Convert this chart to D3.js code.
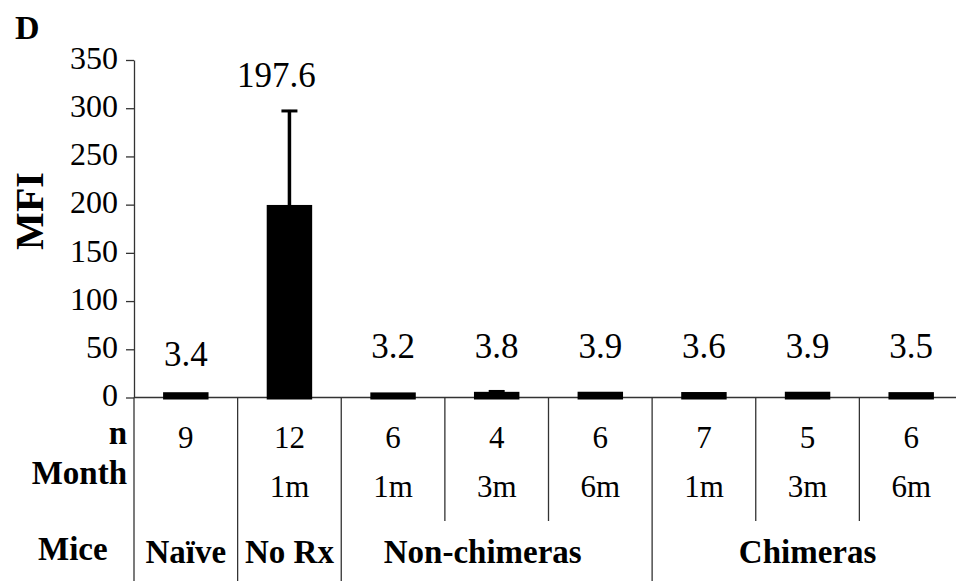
<!DOCTYPE html>
<html>
<head>
<meta charset="utf-8">
<script src="https://cdn.jsdelivr.net/npm/d3@7/dist/d3.min.js"></script>
<style>
  html, body { margin: 0; padding: 0; background: #fff; }
  svg { display: block; font-family: "Liberation Serif", "Times New Roman", serif; }
</style>
</head>
<body>
<svg id="chart" width="956" height="585"></svg>
<script>
// MFI by treatment group
const categories = ["naive", "norx", "nc1", "nc3", "nc6", "c1", "c3", "c6"];
const mfiMean    = [3.4, 197.6, 3.2, 3.8, 3.9, 3.6, 3.9, 3.5];
const mfiError   = [0, 100.6, 0, 3.5, 0, 0, 0, 0];
const nMice      = ["9", "12", "6", "4", "6", "7", "5", "6"];
const monthLabel = ["", "1m", "1m", "3m", "6m", "1m", "3m", "6m"];
const yTicks     = [0, 50, 100, 150, 200, 250, 300, 350];
// mouse groups: label and index range of categories they span
const groupNames = ["Naïve", "No Rx", "Non-chimeras", "Chimeras"];
const groupStart = [0, 1, 2, 5];
const groupEnd   = [0, 1, 4, 7];

const svg = d3.select("#chart");
const W = 956;
const axisX = 134, plotRight = 963;
const yTop = 60, yBase = 397.5;
const tableBottom = 581, subBottom = 521;

const x = d3.scaleBand().domain(categories).range([axisX, plotRight]);
const y = d3.scaleLinear().domain([0, 350]).range([yBase, yTop]);
const bw = x.bandwidth();
const barW = bw * 0.40;
const lineCol = "#333";

// panel letter
svg.append("text").attr("x", 15).attr("y", 39)
  .attr("font-size", 34).attr("font-weight", "bold").text("D");

// y axis title
svg.append("text")
  .attr("transform", "translate(43,211) rotate(-90)")
  .attr("text-anchor", "middle")
  .attr("font-size", 40).attr("font-weight", "bold").text("MFI");

// y axis
const yAxis = svg.append("g")
  .attr("transform", `translate(${axisX},0)`)
  .call(d3.axisLeft(y).tickValues(yTicks).tickSize(8).tickSizeOuter(0).tickPadding(8));
yAxis.select(".domain").attr("stroke", lineCol).attr("stroke-width", 1.3);
yAxis.selectAll(".tick line").attr("stroke", lineCol).attr("stroke-width", 1.3);
yAxis.selectAll(".tick text")
  .attr("font-family", "Liberation Serif, Times New Roman, serif")
  .attr("font-size", 32).attr("fill", "#000").attr("dy", "0.26em");

// vertical axis continues down through the table
svg.append("line")
  .attr("x1", axisX).attr("x2", axisX).attr("y1", yBase).attr("y2", tableBottom)
  .attr("stroke", lineCol).attr("stroke-width", 1.3);

// baseline
svg.append("line")
  .attr("x1", axisX).attr("x2", W).attr("y1", yBase).attr("y2", yBase)
  .attr("stroke", lineCol).attr("stroke-width", 1.3);

// table separators: full height at group edges, shorter inside groups
categories.forEach((c, i) => {
  if (i === 0) return;
  const full = groupStart.includes(i);
  svg.append("line")
    .attr("x1", x(c)).attr("x2", x(c))
    .attr("y1", yBase).attr("y2", full ? tableBottom : subBottom)
    .attr("stroke", lineCol).attr("stroke-width", 1.3);
});

// bars
svg.append("g").selectAll("rect")
  .data(categories)
  .join("rect")
  .attr("x", c => x(c) + (bw - barW) / 2)
  .attr("width", barW)
  .attr("y", (c, i) => y(mfiMean[i]))
  .attr("height", (c, i) => yBase - y(mfiMean[i]))
  .attr("fill", "#000").attr("stroke", "#000").attr("stroke-width", 4);

// error bars (upper only)
categories.forEach((c, i) => {
  if (!mfiError[i]) return;
  const cx = x(c) + bw / 2;
  const yt = y(mfiMean[i] + mfiError[i]);
  svg.append("line")
    .attr("x1", cx).attr("x2", cx).attr("y1", y(mfiMean[i])).attr("y2", yt)
    .attr("stroke", "#000").attr("stroke-width", 3.5);
  svg.append("line")
    .attr("x1", cx - 8).attr("x2", cx + 8).attr("y1", yt + 1).attr("y2", yt + 1)
    .attr("stroke", "#000").attr("stroke-width", 3);
});

// value labels
const labelGap = { naive: 28, norx: 23 };
const labelDx = { norx: -13 };
svg.append("g").selectAll("text")
  .data(categories)
  .join("text")
  .attr("x", c => x(c) + bw / 2 + (labelDx[c] || 0))
  .attr("y", (c, i) => {
    if (c === "norx") return y(mfiMean[i] + mfiError[i]) - labelGap.norx;
    return y(mfiMean[i]) - (labelGap[c] || 36);
  })
  .attr("text-anchor", "middle")
  .attr("font-size", 35)
  .text((c, i) => mfiMean[i].toFixed(1));

// table row titles
svg.append("text").attr("x", 127).attr("y", 444).attr("text-anchor", "end")
  .attr("font-size", 33).attr("font-weight", "bold").text("n");
svg.append("text").attr("x", 127).attr("y", 484).attr("text-anchor", "end")
  .attr("font-size", 33).attr("font-weight", "bold").text("Month");
svg.append("text").attr("x", 38).attr("y", 560)
  .attr("font-size", 33).attr("font-weight", "bold").text("Mice");

// n row
svg.append("g").selectAll("text")
  .data(categories).join("text")
  .attr("x", c => x(c) + bw / 2).attr("y", 448)
  .attr("text-anchor", "middle").attr("font-size", 31)
  .text((c, i) => nMice[i]);

// month row
svg.append("g").selectAll("text")
  .data(categories).join("text")
  .attr("x", c => x(c) + bw / 2).attr("y", 497)
  .attr("text-anchor", "middle").attr("font-size", 31)
  .text((c, i) => monthLabel[i]);

// mouse group row
const groupDx = [0, 0, -14, 0];
svg.append("g").selectAll("text")
  .data(groupNames).join("text")
  .attr("x", (g, i) => (x(categories[groupStart[i]]) + x(categories[groupEnd[i]]) + bw) / 2 + groupDx[i])
  .attr("y", 563)
  .attr("text-anchor", "middle").attr("font-size", 33).attr("font-weight", "bold")
  .text(g => g);
</script>
</body>
</html>
